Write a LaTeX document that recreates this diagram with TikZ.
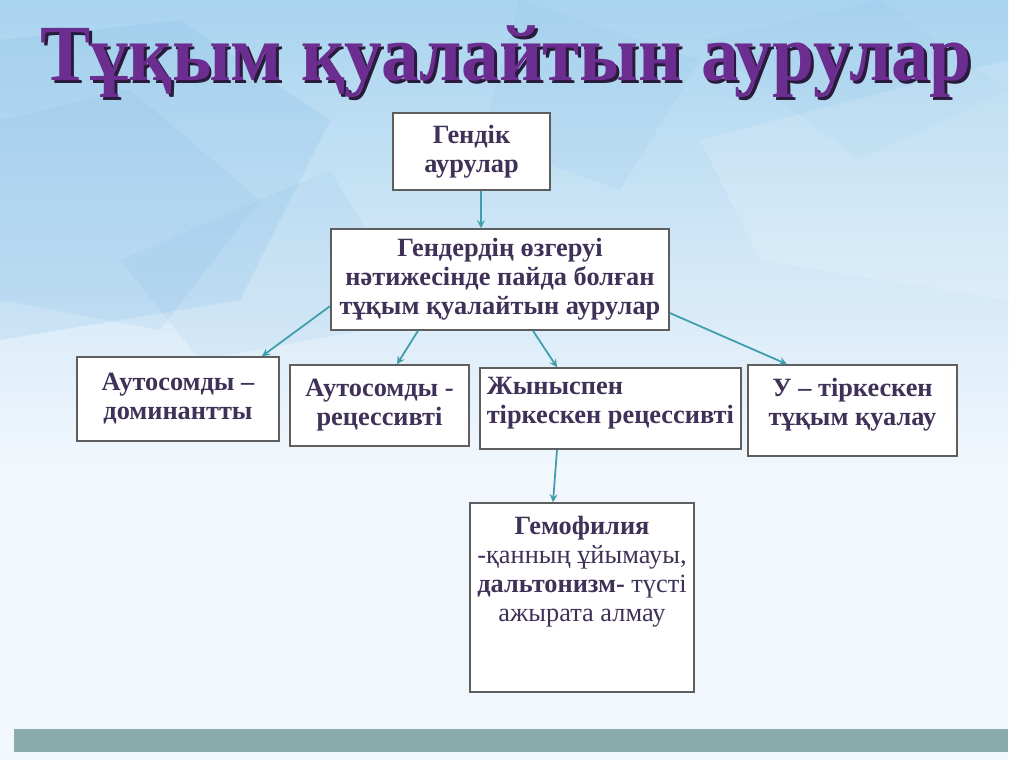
\documentclass[tikz,border=0pt]{standalone}
\usepackage{fontspec}
\setmainfont{Liberation Serif}
\usepackage{tikz}
\usetikzlibrary{arrows}
\usepackage{xcolor}
\definecolor{slidebg}{HTML}{F2F7FD}
\definecolor{skytop}{HTML}{A9D4EF}
\definecolor{facet}{HTML}{7DB8E4}
\definecolor{titlepurple}{HTML}{6C2D91}
\definecolor{titleshade}{HTML}{2A1B3C}
\definecolor{boxtext}{HTML}{3F3157}
\definecolor{boxline}{HTML}{5E5E5E}
\definecolor{arrowteal}{HTML}{3E9EAC}
\definecolor{barteal}{HTML}{8AACAC}
\newcommand{\titletext}{Тұқым қуалайтын аурулар}

\begin{document}
\begin{tikzpicture}[x=0.02cm,y=-0.02cm,>=stealth,
  box/.style={draw=boxline, line width=0.9pt, fill=white, inner sep=2pt,
    text=boxtext, font=\fontsize{15}{16.5}\selectfont\bfseries, align=center},
  link/.style={->, arrowteal, line width=1pt}]
\useasboundingbox (0,0) rectangle (1024,767);
% slide background
\fill[white] (0,0) rectangle (1024,767);
\fill[slidebg] (0,0) rectangle (1008,760);
\shade[top color=skytop, bottom color=slidebg] (0,0) rectangle (1008,470);
\fill[facet, opacity=0.18] (0,40) -- (180,20) -- (330,120) -- (240,300) -- (0,340) -- cycle;
\fill[facet, opacity=0.14] (0,120) -- (130,90) -- (260,200) -- (160,330) -- (0,300) -- cycle;
\fill[facet, opacity=0.12] (120,260) -- (330,170) -- (420,320) -- (200,360) -- cycle;
\fill[facet, opacity=0.1] (520,0) -- (700,60) -- (620,190) -- (480,140) -- cycle;
\fill[facet, opacity=0.08] (700,40) -- (880,0) -- (1008,90) -- (860,160) -- cycle;
\fill[white, opacity=0.15] (700,140) -- (1008,60) -- (1008,300) -- (760,260) -- cycle;
\fill[barteal] (14,729) rectangle (1008,752);
% title with its shadow in one node
\node[text=titlepurple, font=\fontsize{44}{50}\selectfont\bfseries] (title) at (506,63)
  {\scalebox{0.975}[1.03]{\rlap{\raisebox{-1.7pt}{\hspace{1.7pt}\color{titleshade}\titletext}}\titletext}};
% boxes
\node[box, minimum width=3.14cm, minimum height=1.54cm] (genes) at (471.5,151.5) {Гендік\\аурулар};
\node[box, minimum width=6.76cm, minimum height=2.02cm] (change) at (500,279.5) {Гендердің өзгеруі\\нәтижесінде пайда болған\\тұқым қуалайтын аурулар};
\node[box, minimum width=4.04cm, minimum height=1.68cm] (autodom) at (178,399) {Аутосомды –\\доминантты};
\node[box, minimum width=3.58cm, minimum height=1.62cm] (autorec) at (379.5,405.5) {Аутосомды -\\рецессивті};
\node[box, minimum width=5.22cm, minimum height=1.62cm, align=left] (sexrec) at (610.5,408.5) {\parbox[c][1.45cm][t]{4.95cm}{\vspace{3pt}Жыныспен\\тіркескен рецессивті}};
\node[box, minimum width=4.18cm, minimum height=1.82cm] (ylinked) at (852.5,410.5) {\parbox[c][1.65cm][t]{3.9cm}{\centering\vspace{5pt}У – тіркескен\\тұқым қуалау}};
\node[box, minimum width=4.48cm, minimum height=3.78cm] (hemo) at (582,597.5) {\parbox[c][3.62cm][t]{4.3cm}{\centering\vspace{5pt}Гемофилия\\\mdseries -қанның ұйымауы,\\\bfseries дальтонизм-\mdseries{} түсті\\ажырата алмау}};
% connectors
\draw[link] ([xshift=0.19cm]genes.south) -- ([xshift=0.19cm]genes.south |- change.north);
\draw[link] ([yshift=-0.53cm]change.west) -- ([xshift=1.68cm]autodom.north);
\draw[link] ([xshift=-1.64cm]change.south) -- ([xshift=0.35cm]autorec.north);
\draw[link] ([xshift=0.66cm]change.south) -- ([xshift=-1.07cm]sexrec.north);
\draw[link] ([yshift=-0.67cm]change.east) -- ([xshift=-1.31cm]ylinked.north);
\draw[link] ([xshift=-1.07cm]sexrec.south) -- ([xshift=-0.58cm]hemo.north);
\end{tikzpicture}
\end{document}
